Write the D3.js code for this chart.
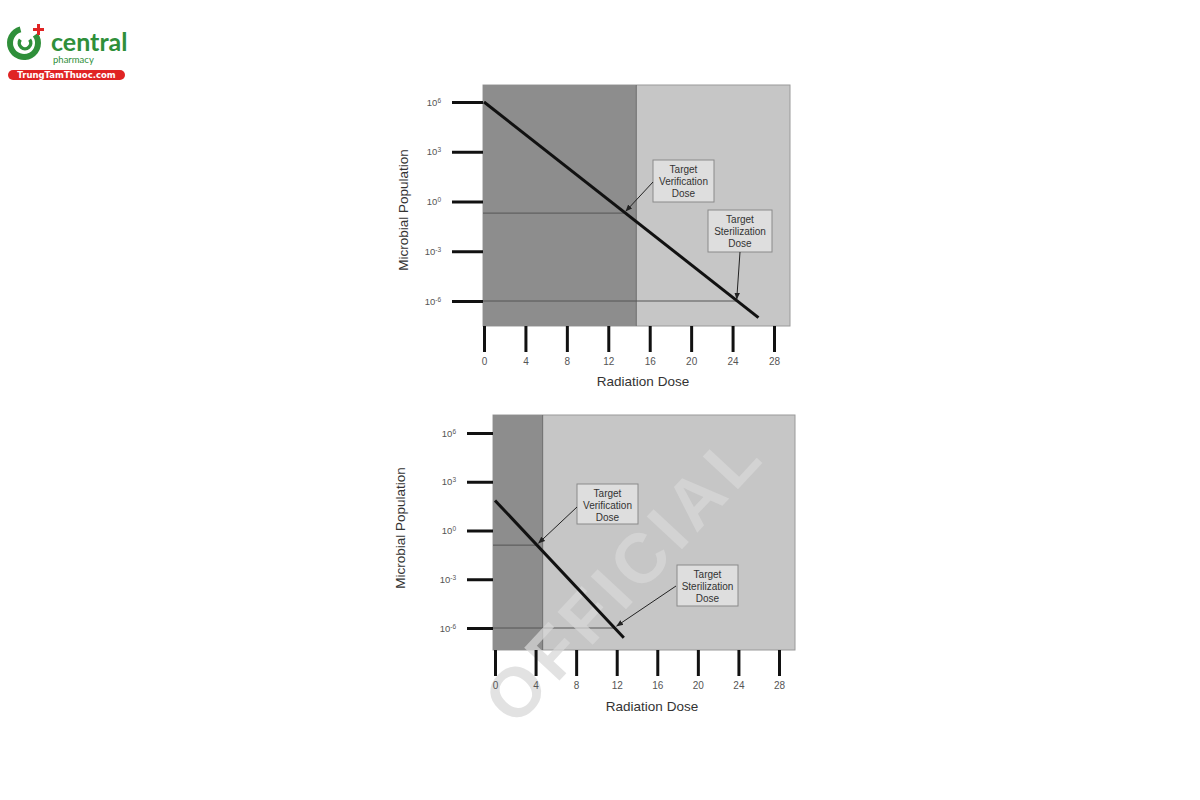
<!DOCTYPE html>
<html><head><meta charset="utf-8">
<script src="https://cdn.jsdelivr.net/npm/d3@7"></script>
<style>body{margin:0;background:#fff;}svg{display:block;font-family:"Liberation Sans",Arial,sans-serif;}</style>
</head><body>
<svg id="c" width="1200" height="800"></svg>
<script>
// ---- data ----
const xTicks = [0, 4, 8, 12, 16, 20, 24, 28];
const yTickExp = [6, 3, 0, -3, -6];
const boxLabels1 = ["Target", "Verification", "Dose"];
const boxLabels2 = ["Target", "Sterilization", "Dose"];
// top chart
const topLineDose = [0, 26.5];
const topLineLog = [6, -7];
const topDarkEnd = 14.7;
const topVerify = {dose: 13.8, log: -0.7};
const topSteril = {dose: 24.5, log: -6};
// bottom chart
const botLineDose = [0, 12.7];
const botLineLog = [1.85, -6.6];
const botDarkEnd = 4.7;
const botVerify = {dose: 4.2, log: -0.9};
const botSteril = {dose: 11.8, log: -6};

const svg = d3.select("#c");
const defs = svg.append("defs");
defs.append("marker").attr("id","arr").attr("viewBox","0 0 10 10").attr("refX",9).attr("refY",5)
  .attr("markerWidth",7).attr("markerHeight",7).attr("orient","auto-start-reverse")
  .append("path").attr("d","M0,1 L10,5 L0,9 z").attr("fill","#222");

function chart(cfg){
  const g = svg.append("g");
  const x = d3.scaleLinear().domain([0, 28]).range(cfg.xr);
  const y = d3.scaleLog().domain([1e6, 1e-6]).range(cfg.yr);
  const L = cfg.plot[0], T = cfg.plot[1], R = cfg.plot[2], B = cfg.plot[3];
  // background
  g.append("rect").attr("x",L).attr("y",T).attr("width",R-L).attr("height",B-T)
    .attr("fill","#c6c6c6").attr("stroke","#9a9a9a").attr("stroke-width",1);
  g.append("rect").attr("x",L).attr("y",T).attr("width",x(cfg.dark)-L).attr("height",B-T)
    .attr("fill","#8d8d8d");
  g.append("line").attr("x1",x(cfg.dark)).attr("x2",x(cfg.dark)).attr("y1",T).attr("y2",B)
    .attr("stroke","#6e6e6e").attr("stroke-width",1);
  // reference lines
  [cfg.verify, cfg.steril].forEach(p=>{
    g.append("line").attr("x1",L).attr("x2",x(p.dose)).attr("y1",y(Math.pow(10,p.log))).attr("y2",y(Math.pow(10,p.log)))
      .attr("stroke","#555").attr("stroke-width",1);
  });
  // watermark
  if(cfg.watermark){
    g.append("text").attr("transform","translate(628,580) rotate(-47)")
      .attr("text-anchor","middle").attr("dominant-baseline","middle")
      .attr("font-size",70).attr("font-weight","bold").attr("fill","#d8d8d8").attr("opacity",0.72)
      .attr("letter-spacing",6).text("OFFICIAL");
  }
  // main line
  const pts = cfg.lineDose.map((d,i)=>[d, Math.pow(10, cfg.lineLog[i])]);
  g.append("path").datum(pts).attr("fill","none").attr("stroke","#111").attr("stroke-width",3)
    .attr("d", d3.line().x(d=>x(d[0])).y(d=>y(d[1])));
  // x axis
  const xa = g.append("g").attr("transform",`translate(0,${B})`)
    .call(d3.axisBottom(x).tickValues(xTicks).tickSize(cfg.xTickLen).tickPadding(6).tickSizeOuter(0));
  xa.select(".domain").remove();
  xa.selectAll(".tick line").attr("stroke","#111").attr("stroke-width",3);
  xa.selectAll(".tick text").attr("fill","#555").attr("font-size",10).attr("font-family","Liberation Sans, Arial");
  // y axis
  const ya = g.append("g").attr("transform",`translate(${L},0)`)
    .call(d3.axisLeft(y).tickValues(yTickExp.map(e=>Math.pow(10,e))).tickSize(cfg.yTickLen).tickPadding(11).tickSizeOuter(0));
  ya.select(".domain").remove();
  ya.selectAll(".tick line").attr("stroke","#111").attr("stroke-width",3);
  ya.selectAll(".tick text").attr("fill","#555").attr("font-size",9.5).attr("font-family","Liberation Sans, Arial")
    .each(function(d,i){
      const t = d3.select(this); t.text("");
      t.append("tspan").text("10");
      t.append("tspan").attr("dy","-0.45em").attr("font-size",6.5).text(String(yTickExp[i]));
    });
  // axis titles
  g.append("text").attr("x",(cfg.xr[0]+cfg.xr[1])/2+cfg.xtDx).attr("y",cfg.xTitleY).attr("text-anchor","middle")
    .attr("font-size",13.5).attr("fill","#333").text("Radiation Dose");
  g.append("text").attr("transform",`translate(${cfg.yTitleX},${cfg.yTitleY}) rotate(-90)`).attr("text-anchor","middle")
    .attr("font-size",13.5).attr("fill","#333").text("Microbial Population");
  // boxes + arrows
  [[cfg.vbox, boxLabels1, cfg.verify, cfg.varrow],[cfg.sbox, boxLabels2, cfg.steril, cfg.sarrow]].forEach(([b, labs, p, a])=>{
    g.append("rect").attr("x",b[0]).attr("y",b[1]).attr("width",b[2]).attr("height",b[3])
      .attr("fill","#dedede").attr("stroke","#8a8a8a").attr("stroke-width",1);
    labs.forEach((s,i)=>{
      g.append("text").attr("x",b[0]+b[2]/2).attr("y",b[1]+12.5+i*12).attr("text-anchor","middle")
        .attr("font-size",10).attr("fill","#333").text(s);
    });
    g.append("line").attr("x1",a[0]).attr("y1",a[1]).attr("x2",x(p.dose)+a[2]).attr("y2",y(Math.pow(10,p.log))+a[3])
      .attr("stroke","#222").attr("stroke-width",1).attr("marker-end","url(#arr)");
  });
}

chart({xr:[484,774], yr:[102,301], plot:[483,85,790,326], dark:topDarkEnd,
  lineDose:topLineDose, lineLog:topLineLog, verify:topVerify, steril:topSteril,
  xTickLen:26, yTickLen:31, xTitleY:386, xtDx:14, yTitleX:408, yTitleY:210,
  vbox:[653,160,61,42], sbox:[708,210,64,42], varrow:[653,182,-1,-2], sarrow:[740,252,-1,-2], watermark:false});

chart({xr:[495,779], yr:[433,628], plot:[493,415,795,650], dark:botDarkEnd,
  lineDose:botLineDose, lineLog:botLineLog, verify:botVerify, steril:botSteril,
  xTickLen:26, yTickLen:26, xTitleY:711, xtDx:15, yTitleX:405, yTitleY:528,
  vbox:[577,484,61,40], sbox:[677,565,61,41], varrow:[577,507,1,-2], sarrow:[676,586,2,-2], watermark:true});

// ---- logo ----
const lg = svg.append("g");
const arc = d3.arc().innerRadius(11).outerRadius(17).startAngle(Math.PI*0.3).endAngle(Math.PI*1.92);
lg.append("path").attr("d",arc()).attr("transform","translate(24,43)").attr("fill","#2f8f3a");
const arc2 = d3.arc().innerRadius(4).outerRadius(7.5).startAngle(Math.PI*0.3).endAngle(Math.PI*1.7);
lg.append("path").attr("d",arc2()).attr("transform","translate(25,43)").attr("fill","#2f8f3a");
lg.append("rect").attr("x",33).attr("y",28).attr("width",11).attr("height",3).attr("fill","#e02424");
lg.append("rect").attr("x",37).attr("y",24).attr("width",3).attr("height",11).attr("fill","#e02424");
lg.append("text").attr("x",51).attr("y",51).attr("font-size",25).attr("font-weight","bold")
  .attr("font-family","Lato, Open Sans, sans-serif").attr("fill","#2f8f3a").text("central");
lg.append("text").attr("x",53).attr("y",63).attr("font-size",9.5).attr("font-family","Lato, Open Sans, sans-serif")
  .attr("fill","#2f8f3a").text("pharmacy");
lg.append("rect").attr("x",8).attr("y",70).attr("width",117).attr("height",10).attr("rx",5).attr("fill","#e02424");
lg.append("text").attr("x",66.5).attr("y",78.2).attr("text-anchor","middle").attr("font-size",8.5).attr("font-weight","bold")
  .attr("font-family","DejaVu Sans, sans-serif").attr("fill","#fff").text("TrungTamThuoc.com");
</script>
</body></html>
